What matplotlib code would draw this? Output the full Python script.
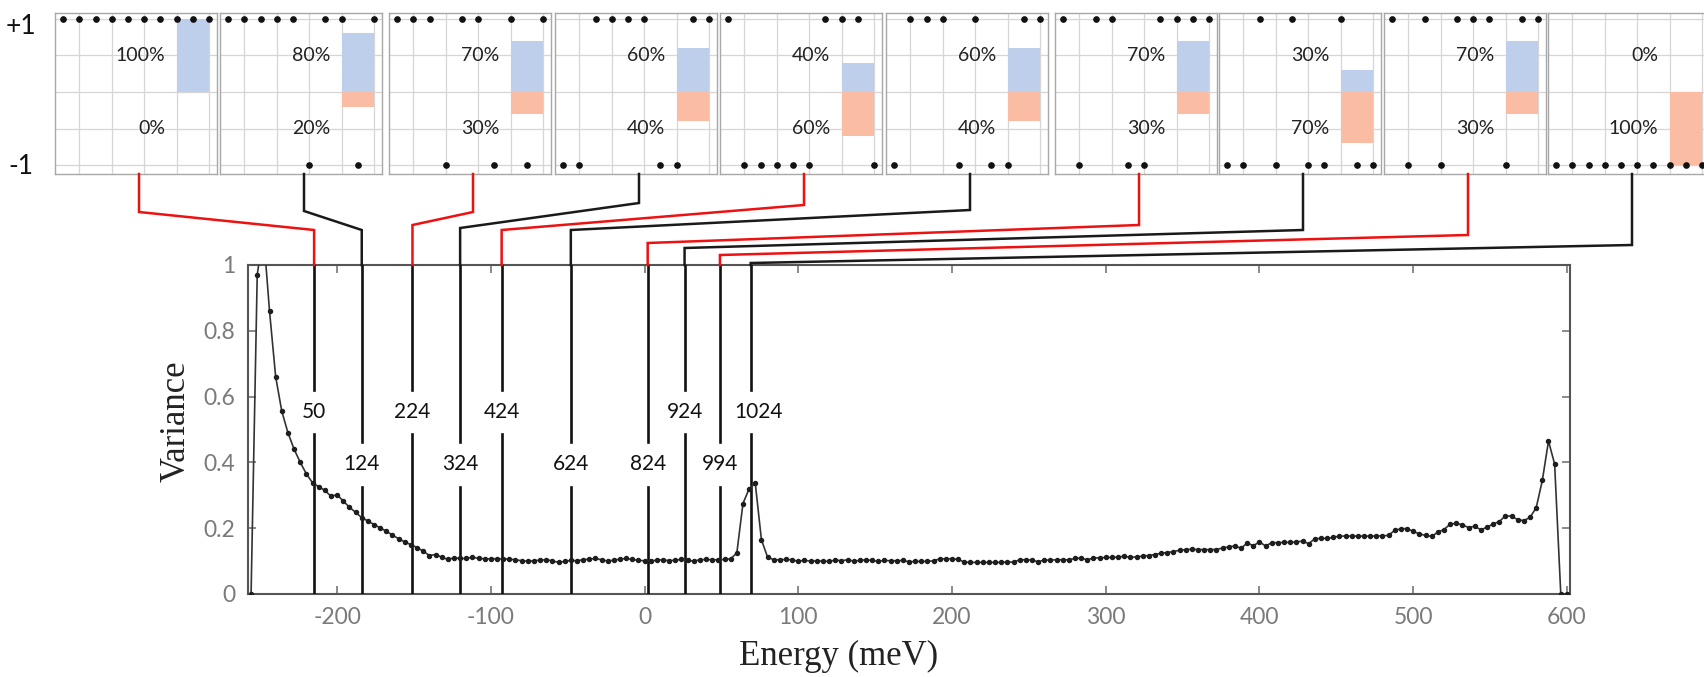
import matplotlib
matplotlib.use("Agg")
import matplotlib.pyplot as plt
from matplotlib.lines import Line2D

plt.rcParams["font.family"] = ["Lato", "DejaVu Sans"]
plt.rcParams["axes.unicode_minus"] = False

# variance curve (meV, variance)
energy = [
    -256, -252, -248, -244, -240, -236, -232, -228, -224, -220,
    -216, -212, -208, -204, -200, -196, -192, -188, -184, -180,
    -176, -172, -168, -164, -160, -156, -152, -148, -144, -140,
    -136, -132, -128, -124, -120, -116, -112, -108, -104, -100,
    -96, -92, -88, -84, -80, -76, -72, -68, -64, -60,
    -56, -52, -48, -44, -40, -36, -32, -28, -24, -20,
    -16, -12, -8, -4, 0, 4, 8, 12, 16, 20,
    24, 28, 32, 36, 40, 44, 48, 52, 56, 60,
    64, 68, 72, 76, 80, 84, 88, 92, 96, 100,
    104, 108, 112, 116, 120, 124, 128, 132, 136, 140,
    144, 148, 152, 156, 160, 164, 168, 172, 176, 180,
    184, 188, 192, 196, 200, 204, 208, 212, 216, 220,
    224, 228, 232, 236, 240, 244, 248, 252, 256, 260,
    264, 268, 272, 276, 280, 284, 288, 292, 296, 300,
    304, 308, 312, 316, 320, 324, 328, 332, 336, 340,
    344, 348, 352, 356, 360, 364, 368, 372, 376, 380,
    384, 388, 392, 396, 400, 404, 408, 412, 416, 420,
    424, 428, 432, 436, 440, 444, 448, 452, 456, 460,
    464, 468, 472, 476, 480, 484, 488, 492, 496, 500,
    504, 508, 512, 516, 520, 524, 528, 532, 536, 540,
    544, 548, 552, 556, 560, 564, 568, 572, 576, 580,
    584, 588, 592, 596, 600,
]
variance = [
    0.0, 0.97, 1.10, 0.86, 0.66, 0.555, 0.49, 0.44, 0.40, 0.365,
    0.338, 0.326, 0.315, 0.297, 0.302, 0.282, 0.264, 0.248, 0.232, 0.222,
    0.211, 0.201, 0.191, 0.179, 0.168, 0.158, 0.150, 0.141, 0.130, 0.117,
    0.120, 0.112, 0.105, 0.110, 0.108, 0.108, 0.112, 0.108, 0.107, 0.107,
    0.107, 0.107, 0.106, 0.104, 0.101, 0.100, 0.101, 0.103, 0.104, 0.101,
    0.096, 0.099, 0.102, 0.101, 0.104, 0.106, 0.108, 0.104, 0.100, 0.103,
    0.106, 0.108, 0.105, 0.102, 0.101, 0.100, 0.103, 0.104, 0.101, 0.103,
    0.105, 0.102, 0.100, 0.104, 0.105, 0.104, 0.104, 0.105, 0.107, 0.125,
    0.275, 0.320, 0.336, 0.165, 0.112, 0.104, 0.104, 0.105, 0.104, 0.099,
    0.103, 0.099, 0.101, 0.100, 0.099, 0.103, 0.101, 0.104, 0.100, 0.102,
    0.104, 0.102, 0.099, 0.102, 0.101, 0.101, 0.102, 0.098, 0.099, 0.099,
    0.099, 0.101, 0.107, 0.107, 0.107, 0.105, 0.097, 0.096, 0.096, 0.096,
    0.096, 0.096, 0.096, 0.097, 0.097, 0.104, 0.104, 0.103, 0.098, 0.103,
    0.103, 0.104, 0.104, 0.104, 0.108, 0.109, 0.104, 0.109, 0.110, 0.111,
    0.111, 0.112, 0.115, 0.111, 0.113, 0.115, 0.117, 0.120, 0.124, 0.126,
    0.129, 0.133, 0.135, 0.136, 0.135, 0.135, 0.135, 0.135, 0.140, 0.143,
    0.146, 0.139, 0.155, 0.147, 0.158, 0.146, 0.156, 0.156, 0.157, 0.157,
    0.158, 0.161, 0.153, 0.168, 0.169, 0.169, 0.172, 0.176, 0.176, 0.176,
    0.176, 0.176, 0.176, 0.176, 0.177, 0.178, 0.194, 0.198, 0.199, 0.190,
    0.183, 0.178, 0.175, 0.188, 0.196, 0.212, 0.215, 0.210, 0.202, 0.206,
    0.195, 0.203, 0.213, 0.220, 0.238, 0.236, 0.226, 0.223, 0.233, 0.262,
    0.345, 0.465, 0.395, 0.0, 0.0,
]

# snapshots marked on the curve
snap_ids = [50, 124, 224, 324, 424, 624, 824, 924, 994, 1024]
snap_energy = [-215, -184, -151, -120, -93, -48, 2, 26, 49, 69]
pct_up = [100, 80, 70, 60, 40, 60, 70, 30, 70, 0]
pct_down = [0, 20, 30, 40, 60, 40, 30, 70, 30, 100]
spins = [
    [1, 1, 1, 1, 1, 1, 1, 1, 1, 1],
    [1, 1, 1, 1, 1, -1, 1, 1, -1, 1],
    [1, 1, 1, -1, 1, 1, -1, 1, -1, 1],
    [-1, -1, 1, 1, 1, 1, -1, -1, 1, 1],
    [1, -1, -1, -1, -1, -1, 1, 1, 1, -1],
    [-1, 1, 1, 1, -1, 1, -1, -1, 1, 1],
    [1, -1, 1, 1, -1, -1, 1, 1, 1, 1],
    [-1, -1, 1, -1, 1, -1, -1, 1, -1, -1],
    [1, -1, 1, -1, 1, 1, 1, -1, 1, 1],
    [-1, -1, -1, -1, -1, -1, -1, -1, -1, -1],
]

W, H = 1704, 677
fig = plt.figure(figsize=(W / 100, H / 100), dpi=100)


def fx(px):
    return px / W


def fy(py):
    # py measured from the top of the picture
    return 1 - py / H


# ---- main variance plot ----
ax_l, ax_r, ax_t, ax_b = 248, 1570, 265, 594
ax = fig.add_axes([fx(ax_l), fy(ax_b), (ax_r - ax_l) / W, (ax_b - ax_t) / H])
ax.set_xlim(-258, 602)
ax.set_ylim(0, 1)

ax.plot(energy, variance, "-o", color="#333333", lw=1.2, ms=2.9,
        mfc="#1e1e1e", mec="#1e1e1e", zorder=4)

# vertical marker lines, broken where the label sits
label_row = [0, 1, 0, 1, 0, 1, 1, 0, 1, 0]
row_y = [0.553, 0.394]
gap = 0.068
for i, (E, lab) in enumerate(zip(snap_energy, snap_ids)):
    yc = row_y[label_row[i]]
    ax.plot([E, E], [0, yc - gap], color="#111111", lw=1.9, zorder=3)
    ax.plot([E, E], [yc + gap, 1], color="#111111", lw=1.9, zorder=3)
    dx = 6 if lab == 1024 else 0
    ax.annotate(str(lab), (E, yc), xytext=(dx, 0), textcoords="offset points",
                ha="center", va="center", fontsize=15, color="#111111")

ax.set_xticks(range(-200, 601, 100))
ax.set_yticks([0, 0.2, 0.4, 0.6, 0.8, 1])
ax.set_yticklabels(["0", "0.2", "0.4", "0.6", "0.8", "1"])
ax.tick_params(direction="in", top=True, right=True, length=6, width=1.2,
               color="#777777", labelcolor="#7a7a7a", labelsize=16.5, pad=9)
for s in ax.spines.values():
    s.set_color("#555555")
    s.set_linewidth(1.5)

ax.set_ylabel("Variance", family="Liberation Serif", fontsize=25, color="#222222")
ax.yaxis.label.set_va("center")
ax.yaxis.set_label_coords(-0.054, 0.526)
ax.set_xlabel("Energy (meV)", family="Liberation Serif", fontsize=25, color="#222222")
ax.xaxis.label.set_va("center")
ax.xaxis.set_label_coords(0.447, -0.19)

# ---- spin configuration panels ----
panel_x = [55, 220, 389, 555, 720, 886, 1055, 1219, 1384, 1548]
panel_w, panel_t, panel_b = 162, 13, 174
blue, salmon = "#bdcfeb", "#fbbca4"
for i in range(10):
    pax = fig.add_axes([fx(panel_x[i]), fy(panel_b), panel_w / W,
                        (panel_b - panel_t) / H])
    pax.set_xlim(0.5, 10.5)
    pax.set_ylim(-1.12, 1.08)
    pax.set_axisbelow(True)
    pax.bar(9, pct_up[i] / 100, width=2, color=blue, zorder=1)
    pax.bar(9, -pct_down[i] / 100, width=2, color=salmon, zorder=1)
    pax.plot(range(1, 11), spins[i], "o", color="#111111", ms=3.8, zorder=3,
             clip_on=False)
    pax.text(7.3, 0.5, f"{pct_up[i]}%", ha="right", va="center",
             fontsize=14, color="#222222")
    pax.text(7.3, -0.5, f"{pct_down[i]}%", ha="right", va="center",
             fontsize=14, color="#222222")
    pax.set_xticks([2, 4, 6, 8, 10])
    pax.set_yticks([-1, -0.5, 0, 0.5, 1])
    pax.grid(True, color="#d6d6d6", lw=0.9)
    pax.tick_params(length=0, labelbottom=False, labelleft=False)
    for s in pax.spines.values():
        s.set_color("#a8a8a8")
        s.set_linewidth(1.0)

fig.text(fx(21), fy(26), "+1", ha="center", va="center", fontsize=19, color="#111111")
fig.text(fx(21), fy(166), "-1", ha="center", va="center", fontsize=19, color="#111111")

# ---- connectors from panels down to the marked energies ----
bend_top = [212, 211, 212, 203, 205, 210, 225, 230, 235, 245]
bend_low = [230, 230, 225, 228, 230, 230, 243, 248, 255, 263]
for i, E in enumerate(snap_energy):
    xe = ax.transData.transform((E, 1))[0]
    xs = panel_x[i] + panel_w / 2 + 3
    xs_px = [xs, xs, xe, xe]
    ys_px = [panel_b, bend_top[i], bend_low[i], ax_t]
    col = "#ee1111" if i % 2 == 0 else "#1a1a1a"
    fig.add_artist(Line2D([x / W for x in xs_px], [fy(y) for y in ys_px],
                          transform=fig.transFigure, color=col, lw=1.8,
                          solid_joinstyle="miter", zorder=10))

fig.savefig("out.png", dpi=100)
